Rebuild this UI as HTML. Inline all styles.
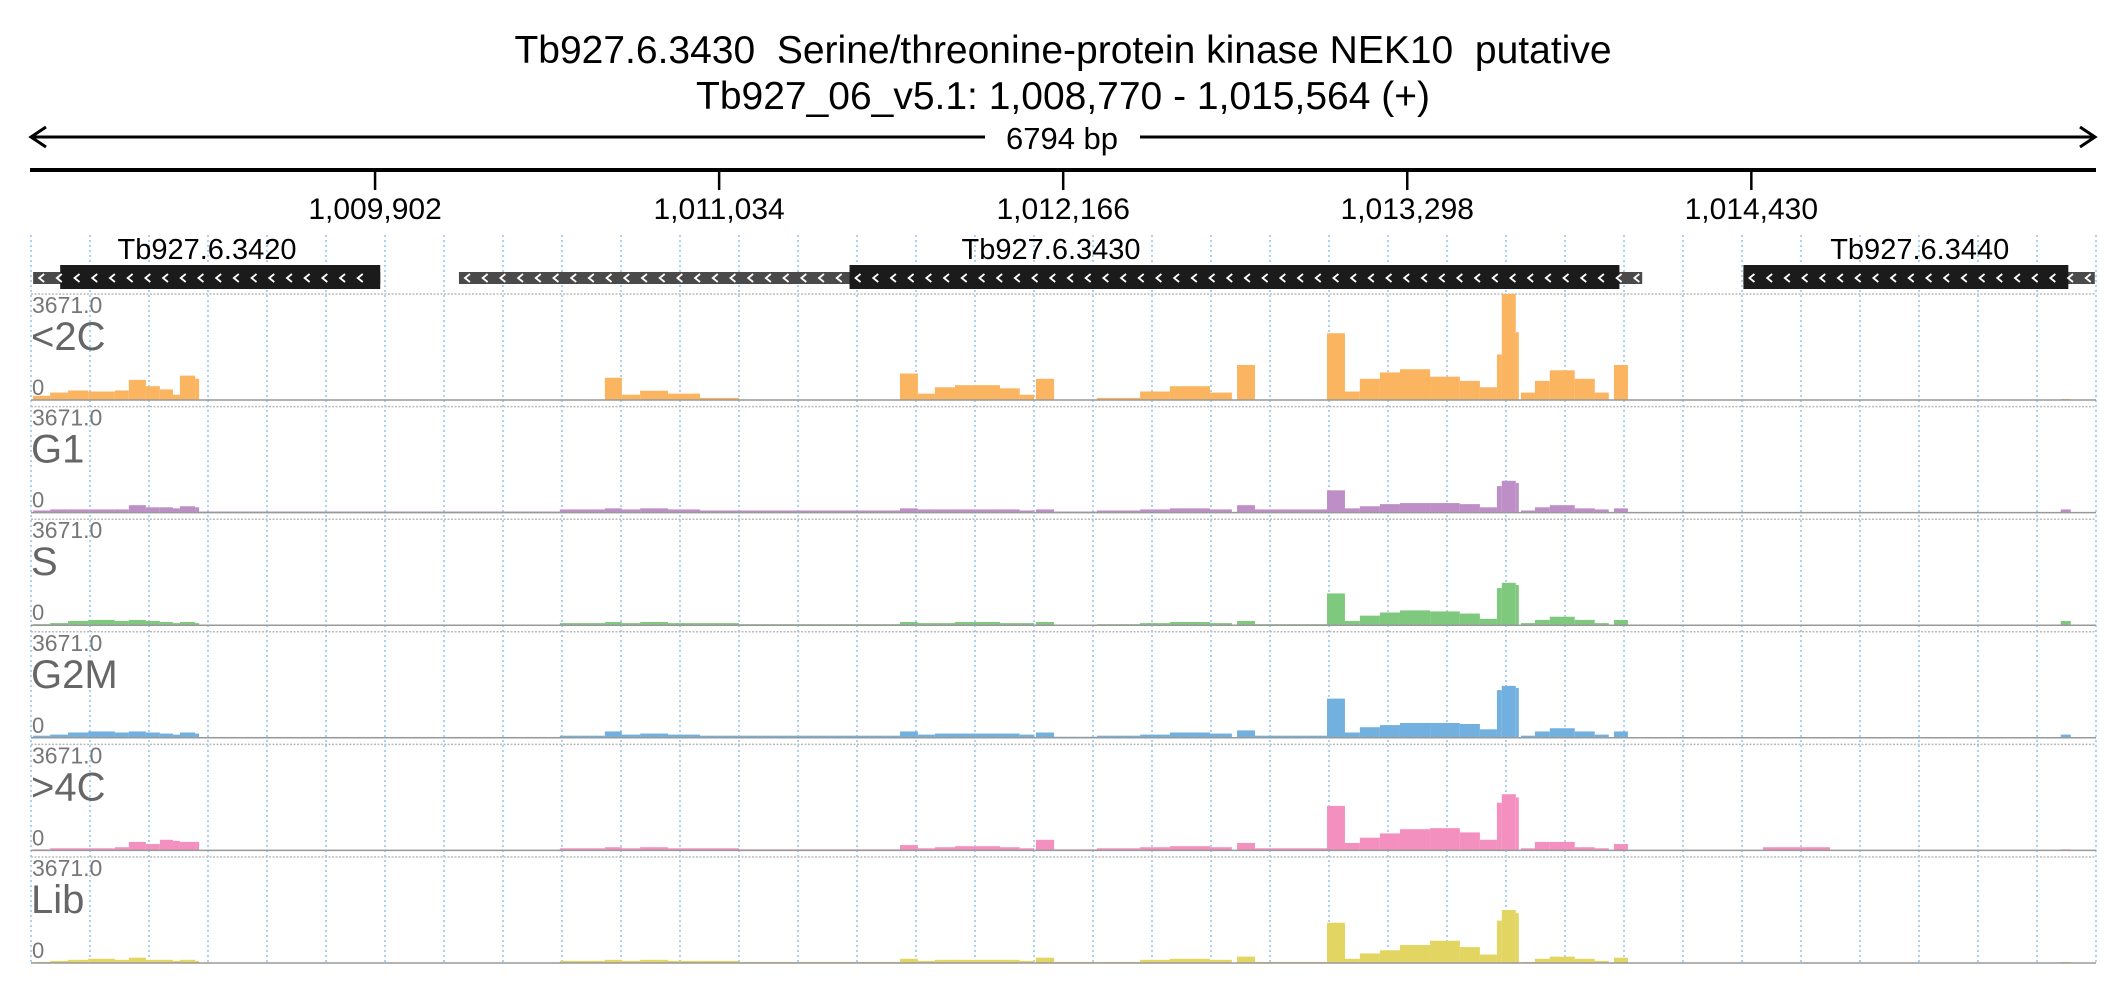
<!DOCTYPE html>
<html><head><meta charset="utf-8"><style>
html,body{margin:0;padding:0;background:#fff;}
svg{display:block;font-family:"Liberation Sans",sans-serif;}
text{white-space:pre;}
</style></head><body>
<svg id="chart" width="2126" height="1000" viewBox="0 0 2126 1000" xmlns="http://www.w3.org/2000/svg" xml:space="preserve">
<text x="1063" y="63" font-size="39" text-anchor="middle" fill="#000">Tb927.6.3430  Serine/threonine-protein kinase NEK10  putative</text>
<text x="1063" y="109" font-size="39" text-anchor="middle" fill="#000">Tb927_06_v5.1: 1,008,770 - 1,015,564 (+)</text>
<g id="ruler">
<line x1="32" y1="137" x2="2094" y2="137" stroke="#000" stroke-width="3"/>
<polyline points="46,127 31,137 46,147" fill="none" stroke="#000" stroke-width="3"/>
<polyline points="2080,127 2095,137 2080,147" fill="none" stroke="#000" stroke-width="3"/>
<rect x="985" y="118" width="155" height="38" fill="#fff"/>
<text x="1062" y="149" font-size="31" text-anchor="middle">6794 bp</text>
</g>
<line x1="30" y1="170" x2="2096" y2="170" stroke="#000" stroke-width="4"/>
<g id="ticks"></g>
<g id="grid"></g>
<g id="genes"></g>
<g id="tracks"></g>
</svg>
<script>
const NS="http://www.w3.org/2000/svg";
const startBp=1008770, endBp=1015564;
const tickValues=[1009902,1011034,1012166,1013298,1014430];
const tickLabels=["1,009,902","1,011,034","1,012,166","1,013,298","1,014,430"];
const trackNames=["<2C","G1","S","G2M",">4C","Lib"];
const trackMax=3671.0;
// coverage segments as bp offsets from start
const segStarts=[7,63,122,188,276,322,378,424,467,490,540,553,1740,1888,1944,2004,2096,2201,2329,2859,2918,2974,3040,3188,3253,3306,3366,3507,3649,3747,3879,3968,4027,4264,4323,4372,4438,4504,4603,4701,4767,4823,4839,4885,4902,4948,4997,5079,5145,5208,6678,5698];
const segEnds  =[63,122,188,276,322,378,424,467,490,540,553,1740,1888,1944,2004,2096,2201,2329,2859,2918,2974,3040,3188,3253,3300,3366,3507,3649,3747,3879,3951,4027,4264,4323,4372,4438,4504,4603,4701,4767,4823,4839,4885,4895,4948,4997,5079,5145,5191,5254,6711,5919];
// fraction of track max per segment
const valsLt2C=[.04,.07,.09,.08,.09,.19,.13,.10,.05,.23,.20,0,0,.21,.05,.087,.06,.02,0,.25,.06,.12,.14,.11,.05,.20,0,.02,.08,.13,.07,.33,0,.63,.08,.20,.26,.29,.22,.18,.12,.43,1.0,.64,.07,.18,.28,.20,.07,.33,.01,0];
const valsG1=[.02,.03,.03,.03,.03,.07,.05,.05,.04,.06,.05,.01,.03,.04,.03,.04,.03,.02,.02,.04,.03,.03,.03,.03,.02,.03,.01,.02,.03,.04,.03,.07,.03,.21,.04,.06,.08,.09,.09,.08,.05,.25,.30,.28,.02,.05,.07,.04,.03,.04,.03,0];
const valsS=[.01,.02,.04,.05,.04,.05,.04,.03,.02,.03,.02,.005,.02,.03,.02,.03,.02,.02,.01,.03,.02,.02,.03,.02,.02,.03,.005,.01,.02,.03,.02,.04,.01,.30,.04,.09,.12,.14,.13,.11,.06,.35,.40,.38,.02,.05,.08,.05,.02,.05,.04,0];
const valsG2M=[.02,.03,.05,.06,.05,.06,.05,.04,.03,.05,.04,.008,.02,.06,.03,.04,.03,.02,.02,.06,.03,.04,.04,.04,.03,.05,.01,.02,.03,.05,.04,.07,.02,.37,.05,.10,.12,.14,.14,.13,.08,.45,.49,.47,.02,.06,.09,.06,.03,.06,.03,0];
const valsGt4C=[.01,.02,.02,.02,.03,.08,.06,.10,.09,.08,.08,.005,.02,.03,.02,.03,.02,.02,.01,.05,.02,.03,.04,.03,.02,.10,.01,.02,.03,.04,.03,.07,.02,.42,.07,.12,.16,.20,.21,.17,.10,.45,.53,.50,.02,.08,.08,.03,.02,.06,.01,.03];
const valsLib=[.01,.02,.03,.04,.03,.05,.03,.03,.02,.03,.02,.005,.02,.03,.02,.03,.02,.02,.01,.04,.02,.03,.03,.03,.02,.05,.01,.01,.03,.04,.03,.06,.01,.38,.04,.09,.12,.17,.21,.15,.08,.40,.50,.47,.01,.04,.06,.04,.02,.05,.01,0];
const trackVals=[valsLt2C,valsG1,valsS,valsG2M,valsGt4C,valsLib];
const trackColors=["#fbb45f","#be8fc6","#7fc97f","#72b0e0","#f490c0","#e2d562"];
// genes in bp
const geneNames=["Tb927.6.3420","","Tb927.6.3430","Tb927.6.3440"];
const geneLabelBp=[1009349,0,1012126,1014984];
const geneThinStart=[1008777,1010178,1011463,1014404];
const geneThickStart=[1008866,1011463,1011463,1014404];
const geneThickEnd=[1009919,1011463,1013996,1015473];
const geneThinEnd=[1009919,1011463,1014071,1015560];

const X0=31,X1=2096;
function x(bp){return X0+(bp-startBp)*(X1-X0)/(endBp-startBp);}
function xo(off){return x(startBp+off);}
function el(tag,attrs,parent){const e=document.createElementNS(NS,tag);for(const k in attrs)e.setAttribute(k,attrs[k]);parent.appendChild(e);return e;}

const ticksG=document.getElementById('ticks');
tickValues.forEach((v,i)=>{
  const l=el('line',{x1:x(v),x2:x(v),y1:170,y2:190,stroke:'#000','stroke-width':2.5},ticksG);
  
  
  const t=el('text',{x:x(v),y:219,'font-size':30,'text-anchor':'middle'},ticksG);
  t.textContent=tickLabels[i];
  
  
});

const gridG=document.getElementById('grid');
for(let i=0;i<=35;i++){
  const gx=X0+i*(X1-X0)/35;
  const l=el('line',{x1:gx,x2:gx,y1:235,y2:965,stroke:'#8fc3ee','stroke-width':1.5,'stroke-dasharray':'2,3'},gridG);
  
  
}

const genesG=document.getElementById('genes');
function chevrons(x1,x2,y,g){
  for(let cx=x1+8;cx<x2-4;cx+=17.7){
    el('polyline',{points:`${cx+3},${y-4} ${cx-2},${y} ${cx+3},${y+4}`,fill:'none',stroke:'#fff','stroke-width':1.8},g);
  }
}
geneNames.forEach((n,i)=>{
  const g=el('g',{},genesG);
  
  
  const a=x(geneThinStart[i]),b=x(geneThinEnd[i]);
  el('rect',{x:a,y:272,width:b-a,height:12,fill:'#4a4a4a'},g);
  const c=x(geneThickStart[i]),d=x(geneThickEnd[i]);
  if(d>c) el('rect',{x:c,y:265,width:d-c,height:24,fill:'#1b1b1b'},g);
  chevrons(a,b,278,g);
  if(n){const t=el('text',{x:x(geneLabelBp[i]),y:259,'font-size':29,'text-anchor':'middle'},g);t.textContent=n;}
});

const tracksG=document.getElementById('tracks');
const TOP0=294,STEP=112.6,H=106;
trackNames.forEach((name,ti)=>{
  const top=TOP0+ti*STEP, base=top+H;
  const g=el('g',{},tracksG);
  
  
  el('line',{x1:31,x2:2096,y1:top,y2:top,stroke:'#bbb','stroke-width':1.5,'stroke-dasharray':'2,1.5'},g);
  const vals=trackVals[ti];
  segStarts.forEach((s,k)=>{
    const v=vals[k]; if(!v) return;
    const xa=xo(s), xb=xo(segEnds[k]);
    const h=v*H;
    const r=el('rect',{x:xa,y:base-h,width:Math.max(1,xb-xa),height:h,fill:trackColors[ti]},g);
    
    
  });
  el('line',{x1:31,x2:2096,y1:base,y2:base,stroke:'#999','stroke-width':1.5},g);
  const m=el('text',{x:32,y:top+19,'font-size':23,fill:'#777'},g);m.textContent=trackMax.toFixed(1);
  
  
  const nm=el('text',{x:31,y:top+56,'font-size':40,fill:'#666'},g);nm.textContent=name;
  
  
  const z=el('text',{x:32,y:base-5,'font-size':22,fill:'#777'},g);z.textContent='0';
  
  
});
</script>
</body></html>
